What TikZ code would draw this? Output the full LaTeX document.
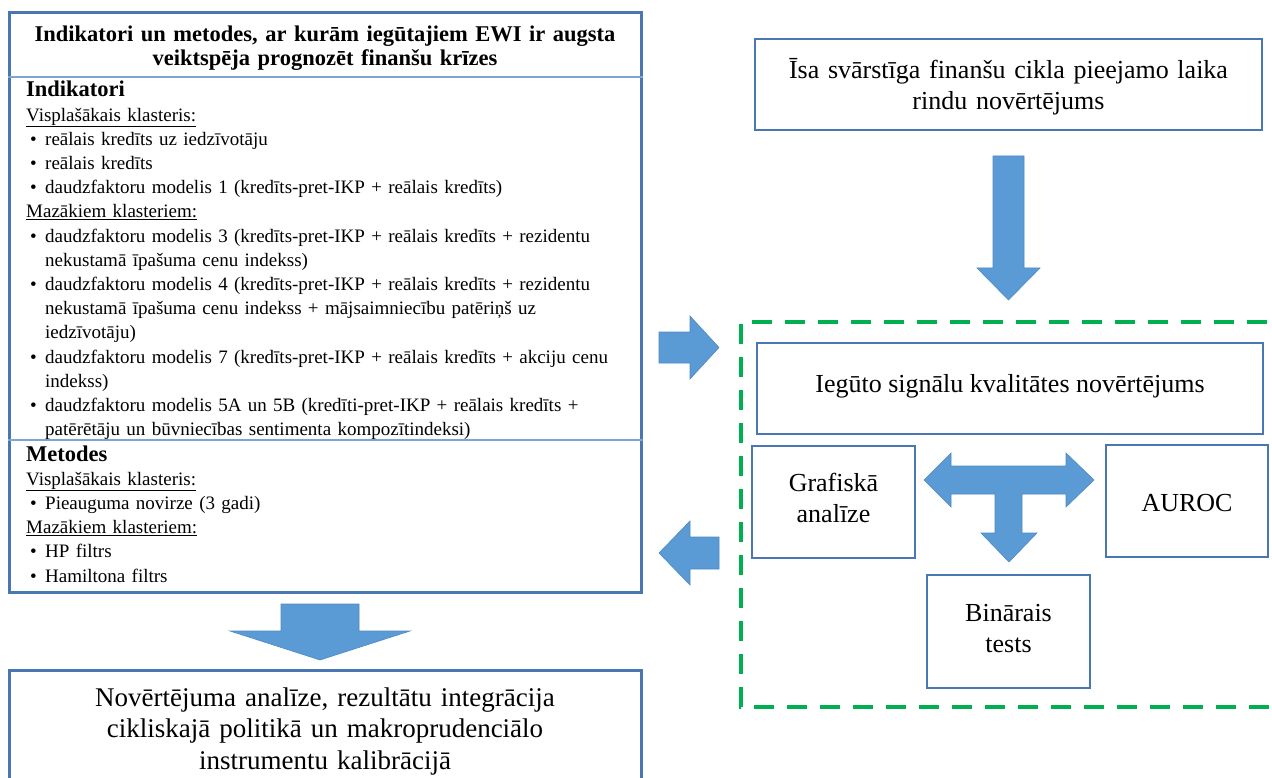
\documentclass[tikz,border=0pt]{standalone}
\usepackage{fontspec}
\setmainfont{Liberation Serif}
\definecolor{panelblue}{HTML}{4A77B4}
\definecolor{rulelight}{HTML}{7FA3D3}
\definecolor{arrowblue}{HTML}{5B9BD5}
\definecolor{arrowedge}{HTML}{4F89C2}
\definecolor{dashgreen}{HTML}{00B050}

% list helpers for the indicator panel
\newcommand{\bitem}[1]{\par\hangindent=19pt\hangafter=1\noindent\hbox to 19pt{\hskip4pt\textbullet\hfil}#1}
\newcommand{\grouphead}[1]{\par\noindent\underline{#1}}
\newcommand{\sechead}[1]{\noindent{\fontsize{22.5}{24}\selectfont\bfseries #1}}

\begin{document}
\begin{tikzpicture}[x=1pt,y=-1pt,
  panel/.style={draw=panelblue, line width=3pt, fill=white, inner sep=0pt},
  box/.style={draw=panelblue, line width=2pt, fill=white, inner sep=0pt},
  label/.style={inner sep=0pt, align=center, text width=#1},
  label/.default=500pt,
  listtext/.style={inner sep=0pt, anchor=base west, text width=612pt, align=left,
    font=\fontsize{19}{24.2}\selectfont},
  bigtext/.style={font=\fontsize{26}{31}\selectfont},
  blockarrow/.style={fill=arrowblue, draw=arrowedge, line width=0.6pt},
  divider/.style={draw=rulelight, line width=1.2pt},
  groupframe/.style={draw=dashgreen, line width=4.5pt, dash pattern=on 20pt off 13pt}]
\useasboundingbox (0,0) rectangle (1272,778);

% ---------------- left panel: indicators and methods ----------------
\node[panel, minimum width=632pt, minimum height=579pt] (left) at (325,302.5) {};
\coordinate (cut1) at (0,77);
\coordinate (cut2) at (0,440);
\draw[divider] (left.west |- cut1) -- (left.east |- cut1);
\draw[divider] (left.west |- cut2) -- (left.east |- cut2);

\node[label=620pt, anchor=base, font=\bfseries\fontsize{22.5}{24}\selectfont] (title) at (325,42)
  {Indikatori un metodes, ar kurām iegūtajiem EWI ir augsta\\veiktspēja prognozēt finanšu krīzes};

\node[listtext] (indik) at (26,97) {\parindent=0pt\parskip=0pt
  \sechead{Indikatori}
  \grouphead{Visplašākais klasteris:}
  \bitem{reālais kredīts uz iedzīvotāju}
  \bitem{reālais kredīts}
  \bitem{daudzfaktoru modelis 1 (kredīts-pret-IKP + reālais kredīts)}
  \grouphead{Mazākiem klasteriem:}
  \bitem{daudzfaktoru modelis 3 (kredīts-pret-IKP + reālais kredīts + rezidentu\newline
         nekustamā īpašuma cenu indekss)}
  \bitem{daudzfaktoru modelis 4 (kredīts-pret-IKP + reālais kredīts + rezidentu\newline
         nekustamā īpašuma cenu indekss + mājsaimniecību patēriņš uz\newline
         iedzīvotāju)}
  \bitem{daudzfaktoru modelis 7 (kredīts-pret-IKP + reālais kredīts + akciju cenu\newline
         indekss)}
  \bitem{daudzfaktoru modelis 5A un 5B (kredīti-pret-IKP + reālais kredīts +\newline
         patērētāju un būvniecības sentimenta kompozītindeksi)}\par};

\node[listtext] (metod) at (26,461) {\parindent=0pt\parskip=0pt
  \sechead{Metodes}
  \grouphead{Visplašākais klasteris:}
  \bitem{Pieauguma novirze (3 gadi)}
  \grouphead{Mazākiem klasteriem:}
  \bitem{HP filtrs}
  \bitem{Hamiltona filtrs}\par};

% ---------------- bottom panel ----------------
\node[panel, minimum width=632pt, minimum height=130pt] (result) at (325,735) {};
\node[label=620pt, anchor=base, font=\fontsize{27}{31.5}\selectfont] (resulttext) at (325,706)
  {Novērtējuma analīze, rezultātu integrācija\\cikliskajā politikā un makroprudenciālo\\instrumentu kalibrācijā};

% ---------------- right column ----------------
\node[box, minimum width=507pt, minimum height=91pt] (series) at (1008.5,85) {};
\node[label=500pt, anchor=base, bigtext] (seriestext) at (series.center |- 0,79)
  {Īsa svārstīga finanšu cikla pieejamo laika\\rindu novērtējums};

% dashed frame around the signal quality tests (right side runs off the page)
\draw[groupframe] (1300,322) -- (741,322) -- (741,707) -- (1300,707);

\node[box, minimum width=506pt, minimum height=91pt] (quality) at (1010,388.5) {};
\node[anchor=base, inner sep=0pt, bigtext] (qualitytext) at (quality.center |- 0,392)
  {Iegūto signālu kvalitātes novērtējums};

\node[box, minimum width=163pt, minimum height=112pt] (graph) at (833.5,502) {};
\node[label=160pt, anchor=base, bigtext] (graphtext) at (graph.center |- 0,491)
  {Grafiskā\\analīze};

\node[box, minimum width=162pt, minimum height=112pt] (auroc) at (1187,501) {};
\node[anchor=base, inner sep=0pt, bigtext] (auroctext) at (auroc.center |- 0,511) {AUROC};

\node[box, minimum width=163pt, minimum height=113pt] (binary) at (1008.5,631.5) {};
\node[label=160pt, anchor=base, bigtext] (binarytext) at (binary.center |- 0,621)
  {Binārais\\tests};

% ---------------- block arrows ----------------
% series -> quality group
\filldraw[blockarrow] (993,156) -- (1024,156) -- (1024,268) -- (1040,268) -- (1008.5,300)
  -- (977,268) -- (993,268) -- cycle;
% left panel -> group
\filldraw[blockarrow] (659,332) -- (690,332) -- (690,316) -- (719,347.5) -- (690,379)
  -- (690,363) -- (659,363) -- cycle;
% group -> left panel
\filldraw[blockarrow] (719,537) -- (690,537) -- (690,521) -- (659,553) -- (690,585)
  -- (690,569) -- (719,569) -- cycle;
% left panel -> result
\filldraw[blockarrow] (281,604) -- (359,604) -- (359,631) -- (410,631) -- (320,660)
  -- (230,631) -- (281,631) -- cycle;
% three-way arrow between the tests
\filldraw[blockarrow] (924,480) -- (951,453) -- (951,466) -- (1066,466) -- (1066,453)
  -- (1094,480) -- (1066,507) -- (1066,494) -- (1022,494) -- (1022,533) -- (1037,533)
  -- (1009,562) -- (981,533) -- (995,533) -- (995,494) -- (951,494) -- (951,507) -- cycle;
\end{tikzpicture}
\end{document}
